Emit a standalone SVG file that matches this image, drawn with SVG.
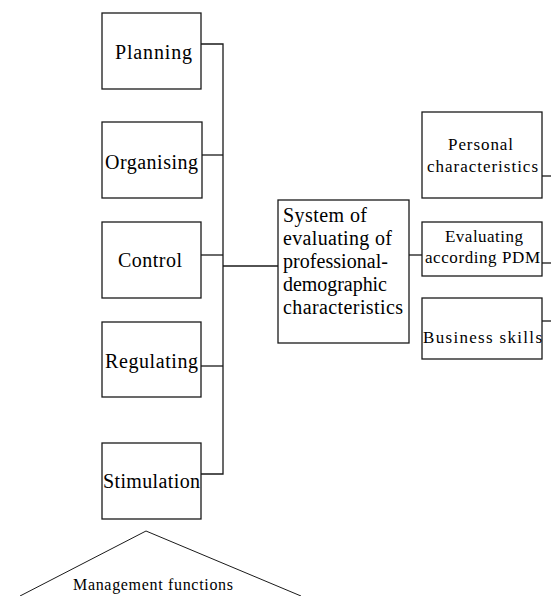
<svg xmlns="http://www.w3.org/2000/svg" width="551" height="596" viewBox="0 0 551 596" font-family="'Liberation Serif', 'Times New Roman', 'DejaVu Serif', serif">
  <style>
    .box { fill: #ffffff; stroke: #1a1a1a; stroke-width: 1.3; }
    .link { fill: none; stroke: #1a1a1a; stroke-width: 1.3; }
    .roof { fill: none; stroke: #1a1a1a; stroke-width: 1; }
    .lbl { font-family: 'Liberation Serif', 'Times New Roman', 'DejaVu Serif', serif; fill: #000000; }
    .big { font-size: 20px; }
    .mid { font-size: 17px; }
    .small { font-size: 16px; }
  </style>
  <rect width="551" height="596" fill="#ffffff"/>

  <!-- connectors -->
  <g id="connectors">
    <path class="link" d="M201 44 H223 V474 H201"/>
    <path class="link" d="M202 155 H223"/>
    <path class="link" d="M201 255 H223"/>
    <path class="link" d="M201 366 H223"/>
    <path class="link" d="M223 266 H278"/>
    <path class="link" d="M409 255 H422"/>
    <path class="link" d="M542 176 H551"/>
    <path class="link" d="M542 263 H551"/>
    <path class="link" d="M542 321 H551"/>
  </g>

  <!-- management functions -->
  <g id="planning">
    <rect class="box" x="102" y="13" width="99" height="76"/>
    <text class="lbl big" x="115" y="59" textLength="77" lengthAdjust="spacing">Planning</text>
  </g>
  <g id="organising">
    <rect class="box" x="102" y="122" width="100" height="76"/>
    <text class="lbl big" x="105" y="169" textLength="93" lengthAdjust="spacing">Organising</text>
  </g>
  <g id="control">
    <rect class="box" x="102" y="222" width="99" height="76"/>
    <text class="lbl big" x="118" y="267" textLength="64" lengthAdjust="spacing">Control</text>
  </g>
  <g id="regulating">
    <rect class="box" x="102" y="322" width="99" height="75"/>
    <text class="lbl big" x="105" y="368" textLength="93" lengthAdjust="spacing">Regulating</text>
  </g>
  <g id="stimulation">
    <rect class="box" x="102" y="443" width="99" height="76"/>
    <text class="lbl big" x="103" y="488" textLength="97" lengthAdjust="spacing">Stimulation</text>
  </g>

  <!-- central system -->
  <g id="system">
    <rect class="box" x="278" y="200" width="131" height="143"/>
    <text class="lbl big" x="283" y="222" textLength="84" lengthAdjust="spacing">System of</text>
    <text class="lbl big" x="283" y="245" textLength="109" lengthAdjust="spacing">evaluating of</text>
    <text class="lbl big" x="283" y="268" textLength="105" lengthAdjust="spacing">professional-</text>
    <text class="lbl big" x="283" y="291" textLength="104" lengthAdjust="spacing">demographic</text>
    <text class="lbl big" x="283" y="314" textLength="120" lengthAdjust="spacing">characteristics</text>
  </g>

  <!-- evaluation criteria -->
  <g id="personal">
    <rect class="box" x="422" y="112" width="120" height="86"/>
    <text class="lbl mid" x="448" y="150" textLength="65" lengthAdjust="spacing">Personal</text>
    <text class="lbl mid" x="427" y="172" textLength="111" lengthAdjust="spacing">characteristics</text>
  </g>
  <g id="evaluating">
    <rect class="box" x="422" y="222" width="120" height="54"/>
    <text class="lbl mid" x="445" y="242" textLength="78" lengthAdjust="spacing">Evaluating</text>
    <text class="lbl mid" x="425" y="263" textLength="115" lengthAdjust="spacing">according PDM</text>
  </g>
  <g id="business">
    <rect class="box" x="422" y="298" width="120" height="61"/>
    <text class="lbl mid" x="423" y="343" textLength="119" lengthAdjust="spacing">Business skills</text>
  </g>

  <!-- caption roof -->
  <g id="management-functions">
    <path class="roof" d="M20 596 L146 531 L301 596"/>
    <text class="lbl small" x="73" y="590" textLength="160" lengthAdjust="spacing">Management functions</text>
  </g>
</svg>
